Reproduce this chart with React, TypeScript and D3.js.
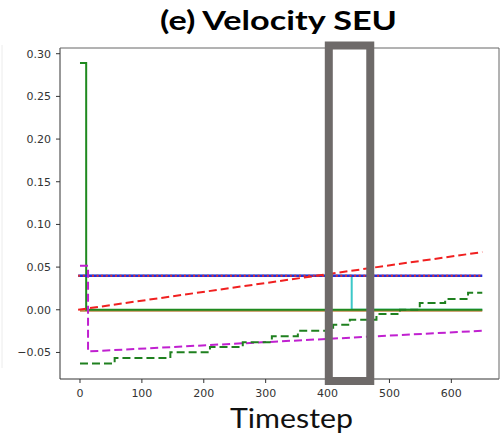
import React from "react";
import * as d3 from "d3";

const W = 501;
const H = 444;

const xTicks = [0, 100, 200, 300, 400, 500, 600];
const yTicks = [-0.05, 0.0, 0.05, 0.1, 0.15, 0.2, 0.25, 0.3];

// [timestep, value] pairs
const cyanSeries: [number, number][] = [[0, 0.04], [439, 0.04], [439, 0], [650, 0]];
const brownSeries: [number, number][] = [[0, -0.001], [650, -0.001]];
const greenSolid: [number, number][] = [[0, 0.289], [10, 0.289], [10, 0], [650, 0]];
const blueSeries: [number, number][] = [[-3, 0.0398], [650, 0.0398]];
const redDotted: [number, number][] = [[-3, 0.0398], [650, 0.0398]];
const redDashed: [number, number][] = [[-3, 0.0], [650, 0.0676]];
const magentaDashed: [number, number][] = [[0, 0.0516], [13, 0.0516], [13, -0.0488], [650, -0.0246]];
const greenStepT = [0, 56, 146, 210, 263, 310, 352, 409, 436, 479, 517, 549, 590, 627, 650];
const greenStepV = [-0.063, -0.0565, -0.0497, -0.0437, -0.038, -0.031, -0.0246, -0.0176, -0.0117, -0.005, 0.0, 0.0078, 0.0125, 0.020, 0.020];
const boxT = [402, 469];

export default function App() {
  const x = d3.scaleLinear().domain([-32.3, 677]).range([60, 499]);
  const y = d3.scaleLinear().domain([-0.0811, 0.3067]).range([379, 48]);

  const line = d3.line<[number, number]>().x((d) => x(d[0])).y((d) => y(d[1]));
  const stepLine = d3
    .line<[number, number]>()
    .x((d) => x(d[0]))
    .y((d) => y(d[1]))
    .curve(d3.curveStepAfter);
  const greenDashed: [number, number][] = greenStepT.map((t, i) => [t, greenStepV[i]]);

  const tickColor = "#333";
  const font = "'DejaVu Sans', sans-serif";

  return (
    <svg width={W} height={H} style={{ position: "absolute", left: 0, top: 0, background: "#fff" }}>
      <rect x={0} y={0} width={W} height={H} fill="#fff" />
      <line x1={2} x2={2} y1={45} y2={368} stroke="#ececec" strokeWidth={1} />
      {/* title */}
      <text
        x={278.5}
        y={30}
        textAnchor="middle"
        fontFamily="Lato, 'Open Sans', sans-serif"
        fontWeight="bold"
        fontSize={27}
        textLength={237}
        lengthAdjust="spacingAndGlyphs"
        fill="#000"
      >
        (e) Velocity SEU
      </text>

      {/* series */}
      <g fill="none" strokeWidth={2}>
        <path d={line(cyanSeries) || ""} stroke="#3cc8c8" />
        <path d={line(brownSeries) || ""} stroke="#c0874a" />
        <path d={line(greenSolid) || ""} stroke="#1f8a1f" />
        <path d={line(blueSeries) || ""} stroke="#1f2fe0" strokeWidth={2.4} />
        <path d={line(redDotted) || ""} stroke="#e03030" strokeDasharray="2,2.6" strokeWidth={2} />
        <path d={line(redDashed) || ""} stroke="#f02020" strokeDasharray="8,4" />
        <path d={line(magentaDashed) || ""} stroke="#c020d0" strokeDasharray="8,4" />
        <path d={stepLine(greenDashed) || ""} stroke="#1f801f" strokeDasharray="8,4" />
      </g>

      {/* spines */}
      <g stroke="#333" strokeWidth={1} fill="none">
        <line x1={60} x2={60} y1={48} y2={379} />
        <line x1={60} x2={499} y1={379} y2={379} />
        <line x1={60} x2={499} y1={48} y2={48} stroke="#666" />
        <line x1={499} x2={499} y1={48} y2={379} stroke="#666" />
      </g>

      {/* y ticks */}
      {yTicks.map((v) => (
        <g key={"y" + v}>
          <line x1={56} x2={60} y1={y(v)} y2={y(v)} stroke={tickColor} />
          <text
            x={51}
            y={y(v)}
            dy="0.35em"
            textAnchor="end"
            fontFamily={font}
            fontSize={11}
            fill={tickColor}
          >
            {v < 0 ? "\u2212" + Math.abs(v).toFixed(2) : v.toFixed(2)}
          </text>
        </g>
      ))}

      {/* x ticks */}
      {xTicks.map((t) => (
        <g key={"x" + t}>
          <line x1={x(t)} x2={x(t)} y1={379} y2={383} stroke={tickColor} />
          <text
            x={x(t)}
            y={397}
            textAnchor="middle"
            fontFamily={font}
            fontSize={11}
            fill={tickColor}
          >
            {t}
          </text>
        </g>
      ))}

      {/* highlight box */}
      <rect
        x={x(boxT[0])}
        y={45.5}
        width={x(boxT[1]) - x(boxT[0])}
        height={335.5}
        fill="none"
        stroke="#6e6a69"
        strokeWidth={8}
      />

      <text
        x={291.5}
        y={428}
        textAnchor="middle"
        fontFamily="Lato, 'Open Sans', sans-serif"
        fontSize={27}
        textLength={123}
        lengthAdjust="spacingAndGlyphs"
        fill="#111"
      >
        Timestep
      </text>
    </svg>
  );
}
